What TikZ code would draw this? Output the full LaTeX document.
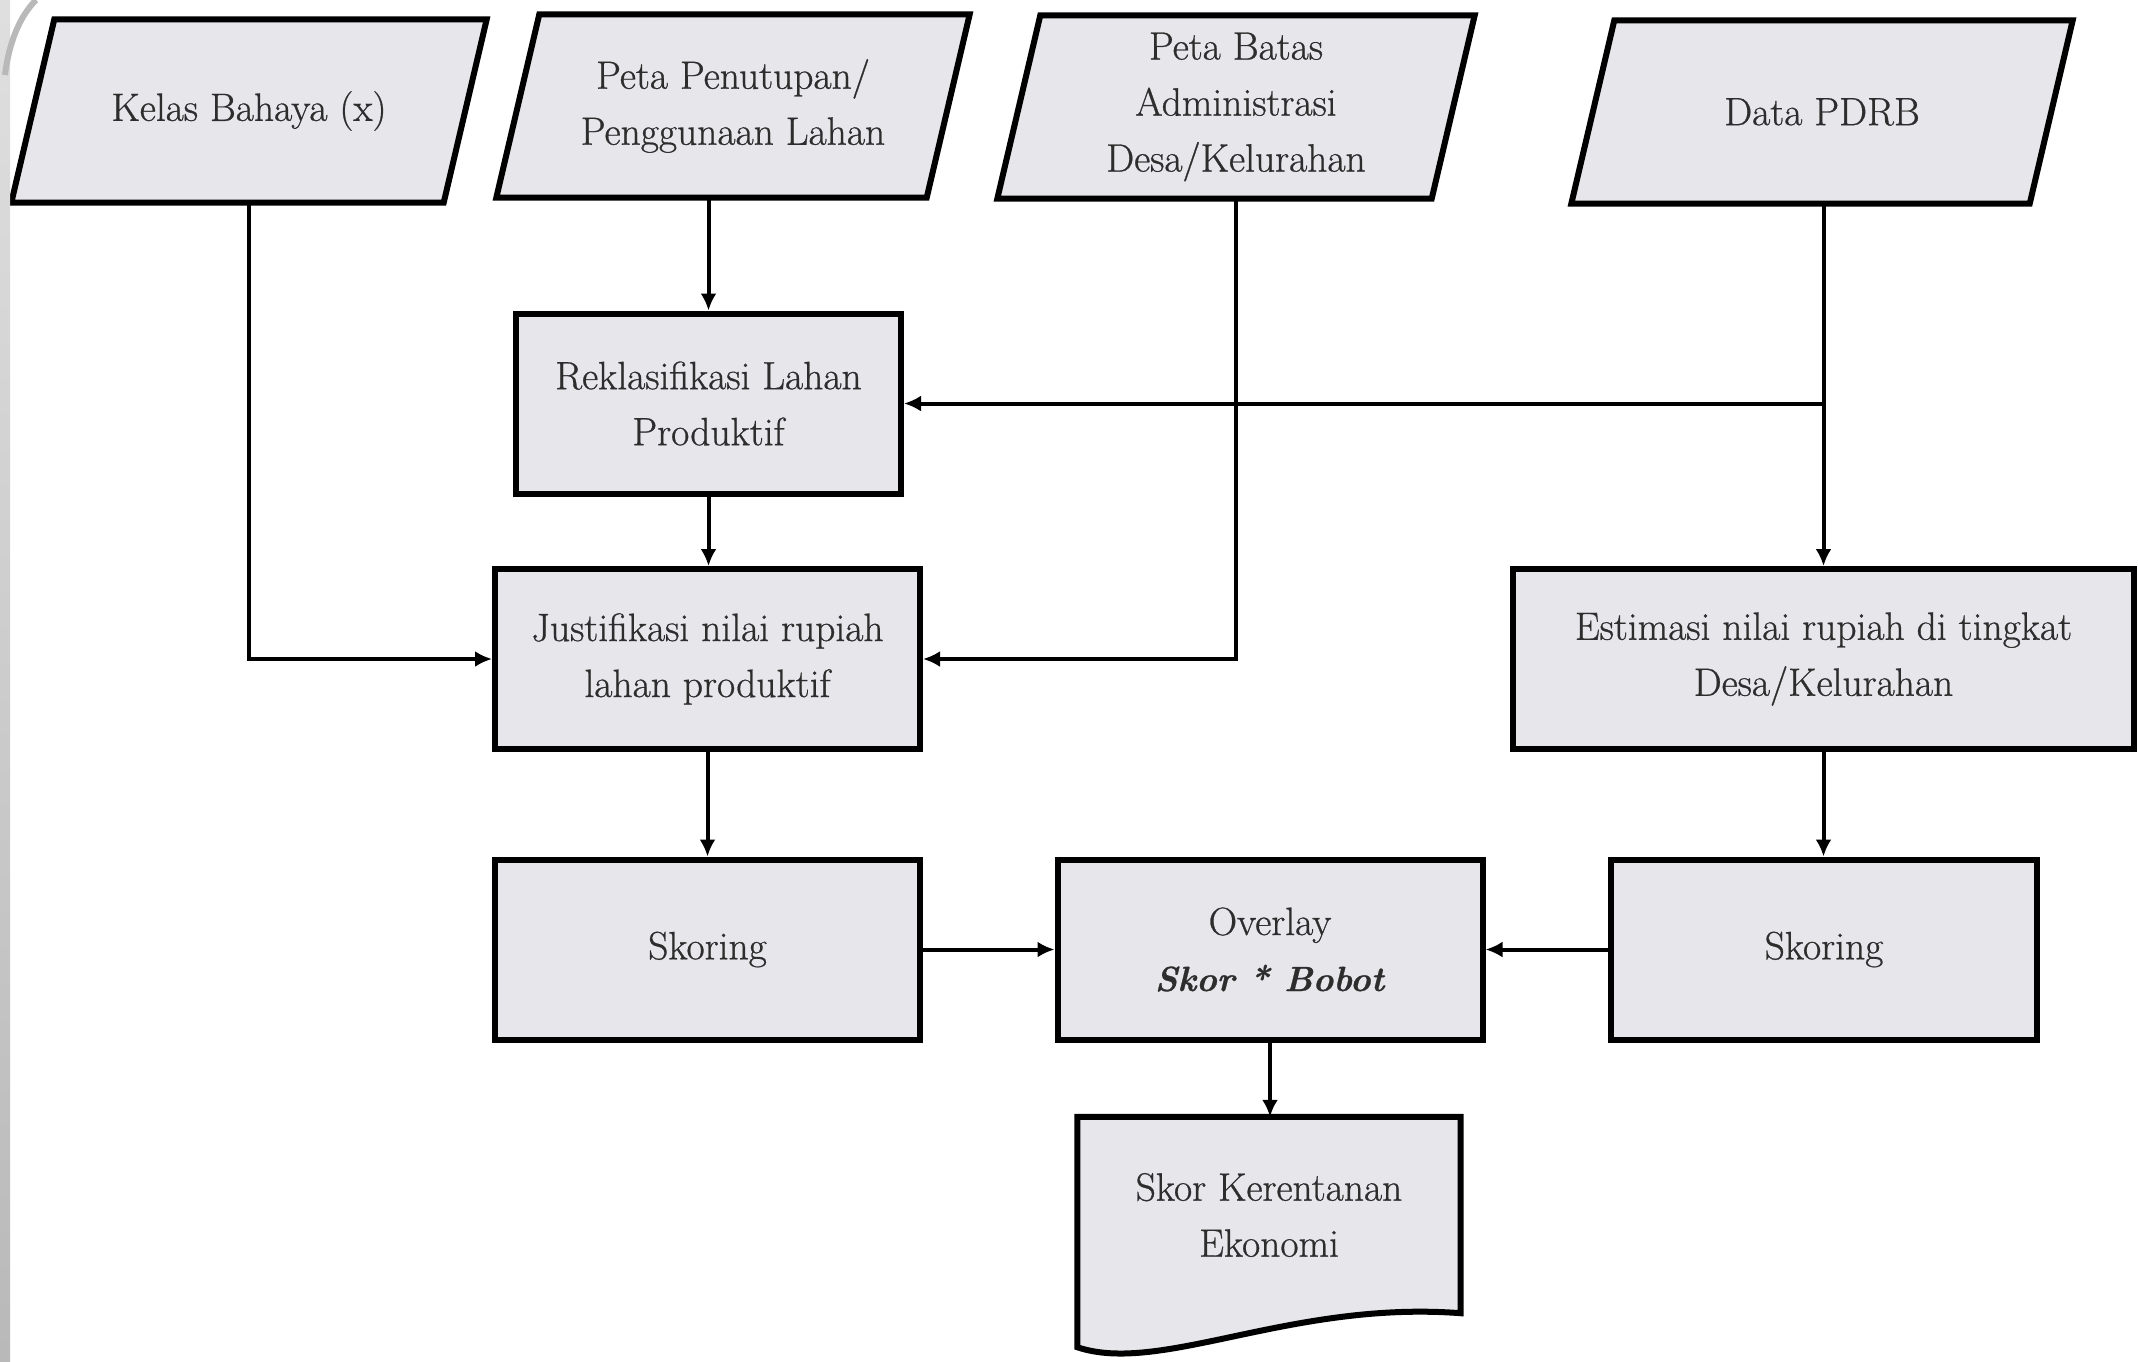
\documentclass[tikz,border=0pt]{standalone}
\usepackage{fontspec}
\newfontfamily\boxfont{Latin Modern Roman}[FakeBold=0.7]
\usetikzlibrary{arrows.meta,backgrounds,calc}
\definecolor{boxfill}{RGB}{230,230,235}
\definecolor{txt}{RGB}{45,45,45}
\begin{document}
\begin{tikzpicture}[x=1pt,y=-1pt,
  lbl/.style={align=center,text=txt,font=\boxfont\fontsize{39.5}{56}\selectfont,inner sep=0pt},
  procbox/.style={lbl,draw=black,line width=6pt,fill=boxfill,minimum height=180pt},
  iobox/.style={lbl,minimum height=183pt},
  ioshape/.style={draw=black,line width=6pt,fill=boxfill,line join=miter},
  conn/.style={line width=4pt,draw=black,-{Latex[length=17pt,width=16pt]}}]

\useasboundingbox (0,0) rectangle (2138,1361);

% page edge
\shade[top color=gray!25,bottom color=gray!55] (0,0) rectangle (10,1361);
\draw[gray!55,line width=6pt] (5,75) .. controls (9,42) and (20,16) .. (36,0);

% data inputs (parallelograms drawn behind)
\node[iobox,minimum width=432pt] (kb) at (249,111) {Kelas Bahaya (x)};
\node[iobox,minimum width=430pt] (pp) at (733,106) {Peta Penutupan/\\Penggunaan Lahan};
\node[iobox,minimum width=434pt] (pb) at (1236,107) {Peta Batas\\Administrasi\\Desa/Kelurahan};
\node[iobox,minimum width=458pt] (pd) at (1822,112) {Data PDRB};

% processes
\node[procbox,minimum width=385pt] (rk) at (708.5,403.5) {Reklasifikasi Lahan\\Produktif};
\node[procbox,minimum width=425pt] (js) at (707.5,659) {Justifikasi nilai rupiah\\lahan produktif};
\node[procbox,minimum width=621pt] (es) at (1823.5,659) {Estimasi nilai rupiah di tingkat\\Desa/Kelurahan};
\node[procbox,minimum width=425pt] (sk1) at (707.5,949.5) {Skoring};
\node[procbox,minimum width=425pt] (ov) at (1270,949.5) {Overlay\\{\fontsize{35}{56}\selectfont\textbf{\textit{Skor * Bobot}}}};
\node[procbox,minimum width=426pt] (sk2) at (1824,949.5) {Skoring};

% output document
\node[lbl,minimum width=383pt,minimum height=196pt] (doc) at (1269,1215) {Skor Kerentanan\\Ekonomi};

\begin{scope}[on background layer]
  \foreach \n in {kb,pp,pb,pd}
    \draw[ioshape] ([xshift=21.5pt]\n.north west) -- ([xshift=21.5pt]\n.north east)
      -- ([xshift=-21.5pt]\n.south east) -- ([xshift=-21.5pt]\n.south west) -- cycle;
  \draw[ioshape] (doc.north west) -- (doc.north east) -- (doc.south east)
    .. controls +(-170,-13) and +(83,28) .. ($(doc.south west)+(0,34)$) -- cycle;
\end{scope}

% connectors
\draw[conn] (kb.south) |- (js.west);
\draw[conn] (pp.south -| rk.north) -- (rk.north);
\draw[conn] (rk.south) -- (rk.south |- js.north);
\draw[conn] (pb.south) |- (js.east);
\draw[conn] (pd.south -| es.north) -- (es.north);
\draw[conn] (rk.east -| es.north) -- (rk.east);
\draw[conn] (js.south) -- (sk1.north);
\draw[conn] (es.south) -- (es.south |- sk2.north);
\draw[conn] (sk1.east) -- (ov.west);
\draw[conn] (sk2.west) -- (ov.east);
\draw[conn] (ov.south) -- (ov.south |- doc.north);
\end{tikzpicture}
\end{document}
